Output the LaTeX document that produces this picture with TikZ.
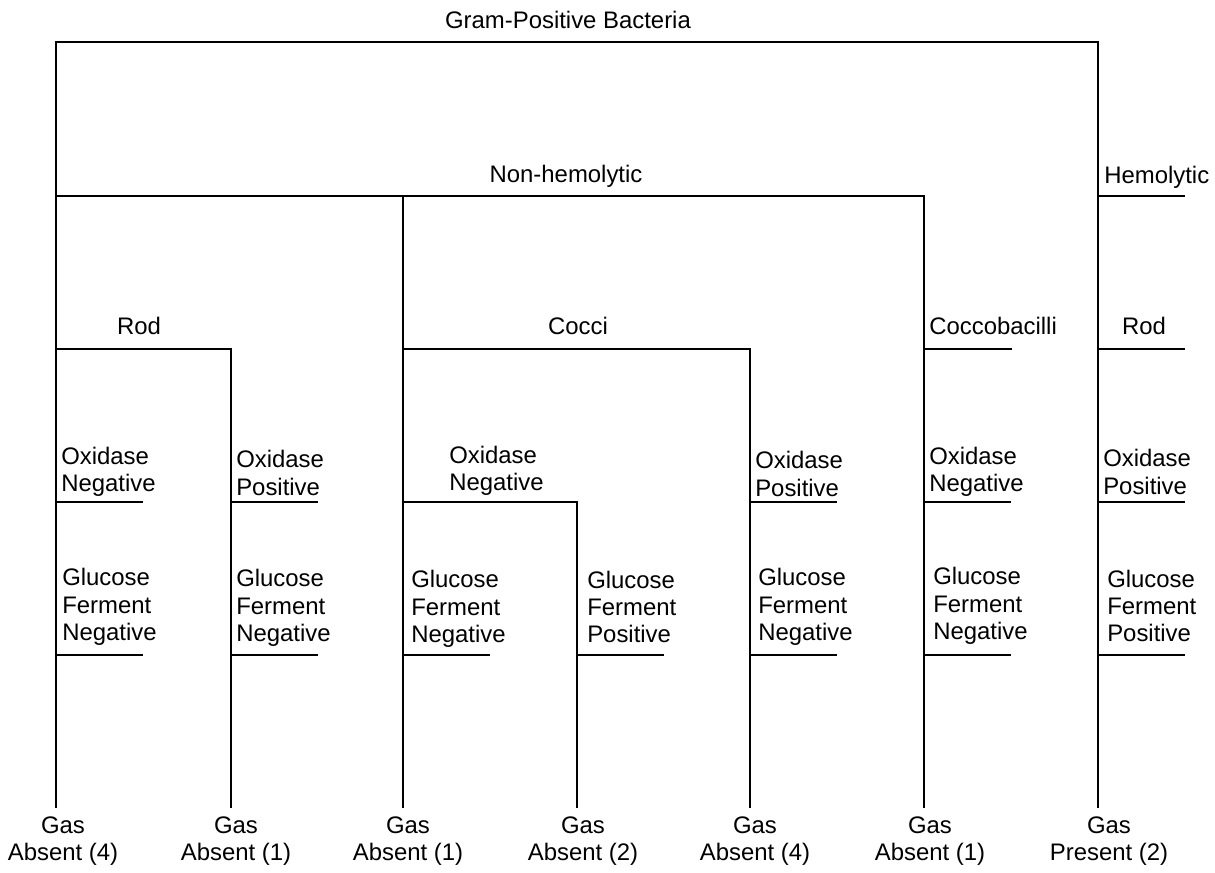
\documentclass[tikz,border=0pt]{standalone}
\usepackage{fontspec}
\setmainfont{Liberation Sans}
\tikzset{
  lbl/.style={inner sep=0pt, font=\fontsize{17}{19.5}\selectfont},
  test/.style={lbl, anchor=west, align=left},
  gas/.style={lbl, align=center},
  br/.style={line width=0.8pt},
}

\begin{document}
\begin{tikzpicture}[x=0.025cm,y=-0.025cm]
\useasboundingbox (0,0) rectangle (1215,873);
% branch points
\coordinate (gpL) at (56,42);
\coordinate (gpR) at (1098,42);
\coordinate (nhL) at (56,196);
\coordinate (nhM) at (403,196);
\coordinate (nhR) at (924,196);
\coordinate (hem) at (1098,196);
\coordinate (hemE) at (1185,196);
\coordinate (rodL) at (56,349);
\coordinate (rodR) at (231,349);
\coordinate (cocL) at (403,349);
\coordinate (cocR) at (750,349);
\coordinate (cb) at (924,349);
\coordinate (cbE) at (1012,349);
\coordinate (rod2) at (1098,349);
\coordinate (rod2E) at (1185,349);
\coordinate (oxN) at (403,502);
\foreach \i/\x in {1/56,2/231,3/403,4/577,5/750,6/924,7/1098}{
  \coordinate (bot\i) at (\x,808);
  \coordinate (glu\i) at (\x,655);
  \coordinate (glu\i e) at (\x+87,655);
}
\foreach \i/\x in {1/56,2/231,5/750,6/924,7/1098}{
  \coordinate (ox\i) at (\x,502);
  \coordinate (ox\i e) at (\x+87,502);
}

% tree
\draw[br] (bot1) |- (gpR) -- (bot7);
\draw[br] (nhL) -| (bot6);
\draw[br] (nhM) -- (bot3);
\draw[br] (rodL) -| (bot2);
\draw[br] (cocL) -| (bot5);
\draw[br] (oxN) -| (bot4);
\draw[br] (hem) -- (hemE);
\draw[br] (cb) -- (cbE);
\draw[br] (rod2) -- (rod2E);
\foreach \i in {1,2,5,6,7} \draw[br] (ox\i) -- (ox\i e);
\foreach \i in {1,...,7} \draw[br] (glu\i) -- (glu\i e);

% labels
\node[lbl] (tGP) at (568,20) {Gram-Positive Bacteria};
\node[lbl] (tNH) at (566,176) {Non-hemolytic};
\node[lbl,anchor=west] (tHem) at (1104,177) {Hemolytic};
\node[lbl] (tRod) at (139,326) {Rod};
\node[lbl] (tCoc) at (578,326) {Cocci};
\node[lbl,anchor=west] (tCb) at (929,326) {Coccobacilli};
\node[lbl] (tRod2) at (1144,326) {Rod};

\node[test] (ox1t) at (61,472) {Oxidase\\Negative};
\node[test] (ox2t) at (236,473) {Oxidase\\Positive};
\node[test] (ox3t) at (449,471) {Oxidase\\Negative};
\node[test] (ox5t) at (755,474) {Oxidase\\Positive};
\node[test] (ox6t) at (929,472) {Oxidase\\Negative};
\node[test] (ox7t) at (1103,472) {Oxidase\\Positive};

\node[test] (gl1t) at (62,607) {Glucose\\Ferment\\Negative};
\node[test] (gl2t) at (236,608) {Glucose\\Ferment\\Negative};
\node[test] (gl3t) at (411,609) {Glucose\\Ferment\\Negative};
\node[test] (gl4t) at (587,607) {Glucose\\Ferment\\Positive};
\node[test] (gl5t) at (758,607) {Glucose\\Ferment\\Negative};
\node[test] (gl6t) at (933,606) {Glucose\\Ferment\\Negative};
\node[test] (gl7t) at (1107,606) {Glucose\\Ferment\\Positive};

\foreach \i/\x/\t in {1/63/Absent (4),2/236/Absent (1),3/408/Absent (1),4/583/Absent (2),5/755/Absent (4),6/930/Absent (1),7/1109/Present (2)}
  \node[gas] (gas\i) at (\x,841) {Gas\\\t};
\end{tikzpicture}
\end{document}
